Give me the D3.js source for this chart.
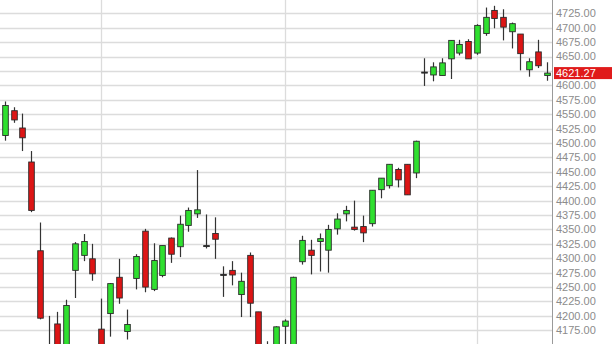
<!DOCTYPE html>
<html>
<head>
<meta charset="utf-8">
<script src="https://cdn.jsdelivr.net/npm/d3@7"></script>
<style>
  body { margin: 0; background: #fff; }
  svg { display: block; }
</style>
</head>
<body>
<svg width="612" height="344"></svg>
<script>
"use strict";

// daily candles, oldest first
var opens  = [4513,4556,4526,4467,4313,4148,4186,4140,4279,4305,4299,4177,4204,4267,4173,4265,4347,4246,4270,4335,4320,4357,4377,4322,4343,4272,4279,4237,4305,4207,4150,4140,4182,4150,4294,4314,4329,4314,4351,4377,4354,4355,4360,4419,4426,4454,4463,4448,4623,4618,4617,4646,4656,4676,4656,4690,4730,4718,4693,4689,4627,4658,4617];
var highs  = [4572,4562,4551,4486,4362,4200,4207,4228,4328,4342,4325,4230,4257,4299,4211,4307,4351,4326,4322,4336,4374,4388,4453,4376,4371,4286,4295,4275,4310,4207,4156,4182,4194,4268,4339,4332,4343,4358,4378,4391,4400,4374,4418,4439,4463,4457,4463,4504,4647,4640,4647,4678,4679,4680,4706,4735,4738,4732,4709,4689,4647,4679,4640];
var lows   = [4504,4535,4486,4380,4194,4110,4120,4130,4231,4295,4261,4110,4164,4221,4159,4246,4241,4243,4267,4292,4302,4346,4370,4317,4299,4233,4253,4198,4198,4120,4110,4130,4140,4140,4289,4272,4277,4275,4341,4364,4348,4328,4355,4404,4421,4423,4410,4439,4599,4607,4617,4611,4652,4646,4653,4686,4699,4678,4664,4626,4615,4630,4608];
var closes = [4565,4540,4509,4383,4196,4125,4130,4218,4325,4329,4273,4125,4256,4231,4185,4303,4250,4296,4322,4307,4359,4383,4384,4322,4333,4272,4271,4260,4222,4130,4120,4181,4191,4267,4331,4305,4334,4350,4368,4383,4350,4344,4418,4439,4463,4436,4410,4503,4623,4632,4639,4678,4671,4646,4704,4718,4716,4701,4707,4655,4641,4634,4621.27];

// candles where a new month starts (vertical grid lines)
var monthStarts = [11, 32, 54];
var tickValues = d3.range(4175, 4726, 25);
var lastPrice = 4621.27;

var svg = d3.select("svg");
var plotRight = 552;

var x = d3.scalePoint().domain(d3.range(opens.length)).range([5, 546.7]);
var y = d3.scaleLinear().domain([4175, 4725]).range([330.3, 13.3]);
var bodyW = 5.6;

svg.append("clipPath").attr("id", "plot")
  .append("rect").attr("x", 0).attr("y", 0).attr("width", plotRight).attr("height", 344);

// grid
var grid = svg.append("g");
grid.selectAll(".h").data(tickValues).enter().append("line")
  .attr("x1", 0).attr("x2", plotRight)
  .attr("y1", function(d){ return Math.round(y(d)) + 0.5; })
  .attr("y2", function(d){ return Math.round(y(d)) + 0.5; })
  .attr("stroke", "#dcdcdc").attr("stroke-width", 1.3);
grid.selectAll(".v").data(monthStarts).enter().append("line")
  .attr("x1", function(d){ return Math.round(x(d)) + 0.5; })
  .attr("x2", function(d){ return Math.round(x(d)) + 0.5; })
  .attr("y1", 0).attr("y2", 344)
  .attr("stroke", "#dcdcdc").attr("stroke-width", 1.3);

// candles
var candles = svg.append("g").attr("clip-path", "url(#plot)");
var idx = d3.range(opens.length);

candles.selectAll(".wick").data(idx).enter().append("line")
  .attr("x1", function(i){ return Math.round(x(i)) + 0.5; })
  .attr("x2", function(i){ return Math.round(x(i)) + 0.5; })
  .attr("y1", function(i){ return y(highs[i]); })
  .attr("y2", function(i){ return y(lows[i]); })
  .attr("stroke", "#333").attr("stroke-width", 1.2);

candles.selectAll(".body").data(idx).enter().append("rect")
  .attr("x", function(i){ return Math.round(x(i)) + 0.5 - bodyW / 2; })
  .attr("y", function(i){ return y(Math.max(opens[i], closes[i])); })
  .attr("width", bodyW)
  .attr("height", function(i){ return Math.max(1, Math.abs(y(opens[i]) - y(closes[i]))); })
  .attr("fill", function(i){
    if (Math.abs(opens[i] - closes[i]) < 1) return "#222";
    return closes[i] > opens[i] ? "#2fe02f" : "#dd1515";
  })
  .attr("stroke", "#2a2a2a").attr("stroke-width", 0.9);

// right axis
var axis = svg.append("g");
axis.append("line")
  .attr("x1", plotRight + 0.5).attr("x2", plotRight + 0.5)
  .attr("y1", 0).attr("y2", 344)
  .attr("stroke", "#9a9a9a");

axis.selectAll(".lbl").data(tickValues.filter(function(d){ return Math.abs(d - lastPrice) > 10; }))
  .enter().append("text")
  .attr("x", 556)
  .attr("y", function(d){ return y(d); })
  .attr("dy", "0.36em")
  .attr("font-family", "Liberation Sans, Arial, sans-serif")
  .attr("font-size", 11)
  .attr("fill", "#8c8c8c")
  .text(function(d){ return d.toFixed(2); });

// last price tag
axis.append("rect")
  .attr("x", 554).attr("y", y(lastPrice) - 6)
  .attr("width", 58).attr("height", 12)
  .attr("fill", "#e01b1b");
axis.append("text")
  .attr("x", 556).attr("y", y(lastPrice)).attr("dy", "0.36em")
  .attr("font-family", "Liberation Sans, Arial, sans-serif")
  .attr("font-size", 11).attr("fill", "#fff")
  .text(lastPrice.toFixed(2));
</script>
</body>
</html>
